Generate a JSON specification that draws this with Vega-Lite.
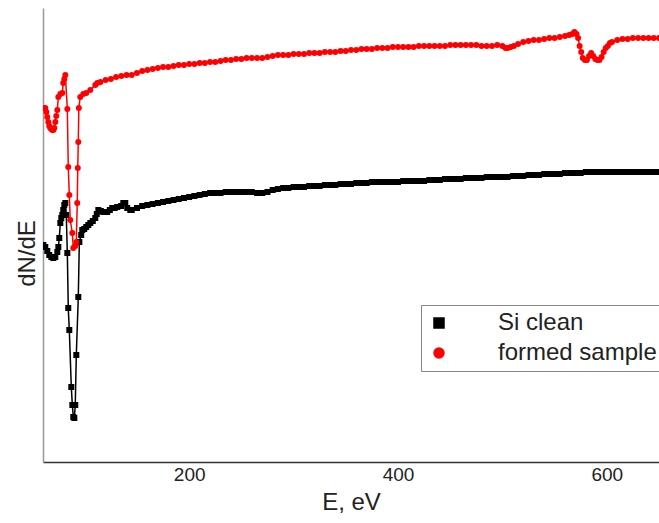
{
  "$schema": "https://vega.github.io/schema/vega-lite/v6.json",
  "width": 616,
  "height": 454,
  "autosize": {"type": "none"},
  "padding": {"left": 43, "top": 8, "right": 0, "bottom": 61},
  "config": {"view": {"stroke": null}, "font": "Liberation Sans"},
  "encoding": {
    "x": {"field": "E", "type": "quantitative", "scale": {"domain": [60, 650], "nice": false, "zero": false},
      "axis": {"values": [200, 400, 600], "ticks": false, "grid": false, "labelFontSize": 19, "labelColor": "#222", "labelPadding": 3, "domainColor": "#333", "domainWidth": 1.5, "title": "E, eV", "titleFontSize": 24, "titleFontWeight": "normal", "titleColor": "#222", "titlePadding": 6}},
    "y": {"field": "v", "type": "quantitative", "scale": {"domain": [0, 454], "nice": false, "zero": false},
      "axis": {"labels": false, "ticks": false, "grid": false, "domainColor": "#999", "domainWidth": 1.5, "title": "dN/dE", "titleFontSize": 24, "titleFontWeight": "normal", "titleColor": "#222", "titleX": -9, "titleY": 245, "titleBaseline": "alphabetic"}}
  },
  "layer": [
    {
      "data": {"values": [
        {"E":60.3,"v":217},{"E":62.2,"v":215},{"E":64.1,"v":211},{"E":66.0,"v":207},{"E":68.0,"v":205},{"E":69.9,"v":204},{"E":71.8,"v":205},{"E":73.7,"v":210},{"E":74.7,"v":215},{"E":75.6,"v":224},{"E":76.6,"v":239},{"E":77.5,"v":244},{"E":78.5,"v":247},{"E":79.4,"v":252},{"E":80.4,"v":257},{"E":81.4,"v":259},{"E":82.3,"v":247},{"E":83.3,"v":209},{"E":84.2,"v":154},{"E":85.2,"v":132},{"E":87.1,"v":75},{"E":88.1,"v":57},{"E":89.0,"v":45},{"E":90.0,"v":44},{"E":90.9,"v":57},{"E":91.9,"v":107},{"E":93.8,"v":165},{"E":94.8,"v":220},{"E":96.6,"v":227},{"E":97.6,"v":232},{"E":99.5,"v":233},{"E":101.4,"v":235},{"E":103.4,"v":237},{"E":105.3,"v":239},{"E":107.7,"v":241},{"E":110.1,"v":244},{"E":111.5,"v":248},{"E":113.0,"v":252},{"E":115.4,"v":251},{"E":117.7,"v":250},{"E":121.5,"v":250},{"E":124,"v":252},{"E":126.3,"v":254},{"E":128.7,"v":254},{"E":131.1,"v":255},{"E":134.9,"v":256},{"E":136.9,"v":259},{"E":138.8,"v":259},{"E":140.7,"v":254},{"E":143.6,"v":252},
        {"E":145,"v":252},{"E":150,"v":254},{"E":155,"v":256},{"E":160,"v":257},{"E":165,"v":258},{"E":170,"v":259},{"E":175,"v":260},{"E":180,"v":261},{"E":185,"v":262},{"E":190,"v":263},{"E":195,"v":264},{"E":200,"v":265},{"E":205,"v":266},{"E":210,"v":267},{"E":215,"v":268},{"E":220,"v":269},{"E":225,"v":269},{"E":230,"v":269},{"E":235,"v":270},{"E":240,"v":270},{"E":245,"v":270},{"E":250,"v":270},{"E":255,"v":270},{"E":260,"v":270},{"E":265,"v":269},{"E":270,"v":269},{"E":275,"v":270},{"E":280,"v":272},{"E":285,"v":273},{"E":290,"v":274},{"E":295,"v":274},{"E":300,"v":275},{"E":305,"v":275},{"E":310,"v":275},{"E":315,"v":276},{"E":320,"v":276},{"E":325,"v":276},{"E":330,"v":277},{"E":335,"v":277},{"E":340,"v":277},{"E":345,"v":278},{"E":350,"v":278},{"E":355,"v":278},{"E":360,"v":279},{"E":365,"v":279},{"E":370,"v":279},{"E":375,"v":280},{"E":380,"v":280},{"E":385,"v":280},{"E":390,"v":280},{"E":395,"v":280},{"E":400,"v":280},{"E":405,"v":281},{"E":410,"v":281},{"E":415,"v":281},{"E":420,"v":281},{"E":425,"v":281},{"E":430,"v":282},{"E":435,"v":282},{"E":440,"v":282},{"E":445,"v":283},{"E":450,"v":283},{"E":455,"v":283},{"E":460,"v":283},{"E":465,"v":284},{"E":470,"v":284},{"E":475,"v":284},{"E":480,"v":284},{"E":485,"v":285},{"E":490,"v":285},{"E":495,"v":285},{"E":500,"v":285},{"E":505,"v":285},{"E":510,"v":286},{"E":515,"v":286},{"E":520,"v":286},{"E":525,"v":287},{"E":530,"v":287},{"E":535,"v":287},{"E":540,"v":288},{"E":545,"v":288},{"E":550,"v":288},{"E":555,"v":288},{"E":560,"v":289},{"E":565,"v":289},{"E":570,"v":289},{"E":575,"v":289},{"E":580,"v":290},{"E":585,"v":290},{"E":590,"v":290},{"E":595,"v":290},{"E":600,"v":290},{"E":605,"v":290},{"E":610,"v":290},{"E":615,"v":290},{"E":620,"v":290},{"E":625,"v":290},{"E":630,"v":290},{"E":635,"v":290},{"E":640,"v":290},{"E":645,"v":290},{"E":650,"v":290}
      ]},
      "layer": [
        {"mark": {"type": "line", "strokeWidth": 1.5, "clip": true}, "encoding": {"color": {"datum": "Si clean"}}},
        {"mark": {"type": "point", "filled": true, "opacity": 1, "size": 36, "clip": true}, "encoding": {"color": {"datum": "Si clean"}, "shape": {"datum": "Si clean"}}}
      ]
    },
    {
      "data": {"values": [
        {"E":60.3,"v":354},{"E":62.2,"v":354},{"E":63.2,"v":350},{"E":64.1,"v":345},{"E":65.1,"v":340},{"E":66.0,"v":336},{"E":67.0,"v":334},{"E":68.0,"v":333},{"E":68.9,"v":332},{"E":69.9,"v":332},{"E":70.8,"v":334},{"E":71.8,"v":340},{"E":72.7,"v":346},{"E":73.7,"v":352},{"E":74.7,"v":365},{"E":76.6,"v":368},{"E":78.5,"v":369},{"E":79.4,"v":379},{"E":80.4,"v":383},{"E":81.4,"v":387},{"E":83.3,"v":353},{"E":84.2,"v":295},{"E":85.2,"v":267},{"E":86.1,"v":242},{"E":88.1,"v":229},{"E":89.0,"v":214},{"E":90.9,"v":216},{"E":91.9,"v":220},{"E":92.8,"v":259},{"E":93.3,"v":294},{"E":93.8,"v":320},{"E":94.3,"v":354},{"E":95.7,"v":365},{"E":98.6,"v":368},{"E":101.4,"v":369},{"E":105.3,"v":372},{"E":110.1,"v":377},{"E":112.0,"v":379},
        {"E":115,"v":380},{"E":120,"v":382},{"E":125,"v":383},{"E":130,"v":385},{"E":135,"v":386},{"E":140,"v":387},{"E":145,"v":387},{"E":150,"v":389},{"E":155,"v":391},{"E":160,"v":392},{"E":165,"v":393},{"E":170,"v":394},{"E":175,"v":395},{"E":180,"v":395},{"E":185,"v":396},{"E":190,"v":397},{"E":195,"v":397},{"E":200,"v":398},{"E":205,"v":398},{"E":210,"v":399},{"E":215,"v":399},{"E":220,"v":400},{"E":225,"v":400},{"E":230,"v":401},{"E":235,"v":402},{"E":240,"v":402},{"E":245,"v":403},{"E":250,"v":403},{"E":255,"v":404},{"E":260,"v":404},{"E":265,"v":404},{"E":270,"v":404},{"E":275,"v":405},{"E":280,"v":406},{"E":285,"v":407},{"E":290,"v":407},{"E":295,"v":407},{"E":300,"v":408},{"E":305,"v":408},{"E":310,"v":408},{"E":315,"v":409},{"E":320,"v":409},{"E":325,"v":409},{"E":330,"v":410},{"E":335,"v":410},{"E":340,"v":410},{"E":345,"v":411},{"E":350,"v":411},{"E":355,"v":412},{"E":360,"v":412},{"E":365,"v":413},{"E":370,"v":413},{"E":375,"v":413},{"E":380,"v":414},{"E":385,"v":414},{"E":390,"v":414},{"E":395,"v":415},{"E":400,"v":415},{"E":405,"v":415},{"E":410,"v":415},{"E":415,"v":415},{"E":420,"v":416},{"E":425,"v":416},{"E":430,"v":416},{"E":435,"v":416},{"E":440,"v":416},{"E":445,"v":416},{"E":450,"v":417},{"E":455,"v":417},{"E":460,"v":417},{"E":465,"v":417},{"E":470,"v":417},{"E":475,"v":417},{"E":480,"v":416},{"E":485,"v":416},{"E":490,"v":416},{"E":495,"v":417},{"E":500,"v":416},{"E":503,"v":414},{"E":505,"v":414},{"E":508,"v":415},{"E":511,"v":416},{"E":515,"v":418},{"E":520,"v":420},{"E":525,"v":421},{"E":530,"v":422},{"E":535,"v":422},{"E":540,"v":423},{"E":545,"v":424},{"E":550,"v":424},{"E":555,"v":425},{"E":560,"v":426},{"E":564,"v":427},{"E":567,"v":428},{"E":569,"v":430},{"E":571,"v":428},{"E":572.5,"v":424},{"E":574,"v":416},{"E":575.5,"v":410},{"E":577,"v":404},{"E":579,"v":402},{"E":581,"v":402},{"E":583,"v":406},{"E":585,"v":409},{"E":587,"v":406},{"E":589,"v":403},{"E":591,"v":402},{"E":593,"v":402},{"E":595,"v":405},{"E":597,"v":410},{"E":599,"v":414},{"E":601,"v":416},{"E":603,"v":419},{"E":605,"v":420},{"E":610,"v":422},{"E":615,"v":423},{"E":620,"v":423},{"E":625,"v":424},{"E":630,"v":424},{"E":635,"v":424},{"E":640,"v":424},{"E":645,"v":424},{"E":650,"v":424}
      ]},
      "layer": [
        {"mark": {"type": "line", "strokeWidth": 1.5, "clip": true}, "encoding": {"color": {"datum": "formed sample"}}},
        {"mark": {"type": "point", "filled": true, "opacity": 1, "size": 36, "clip": true}, "encoding": {
          "color": {"datum": "formed sample", "scale": {"domain": ["Si clean", "formed sample"], "range": ["#000000", "#ff0000"]},
            "legend": {"title": null, "orient": "none", "legendX": 378, "legendY": 297, "symbolSize": 100, "labelOffset": 47, "labelFontSize": 24, "labelColor": "#222", "labelFont": "Liberation Sans", "padding": 6, "rowPadding": 6, "strokeColor": "#888", "fillColor": "white"}},
          "shape": {"datum": "formed sample", "scale": {"domain": ["Si clean", "formed sample"], "range": ["square", "circle"]},
            "legend": {"title": null, "orient": "none", "legendX": 378, "legendY": 297, "symbolSize": 100, "labelOffset": 47, "labelFontSize": 24, "labelColor": "#222", "labelFont": "Liberation Sans", "padding": 6, "rowPadding": 6, "strokeColor": "#888", "fillColor": "white"}}
        }}
      ]
    }
  ]
}
